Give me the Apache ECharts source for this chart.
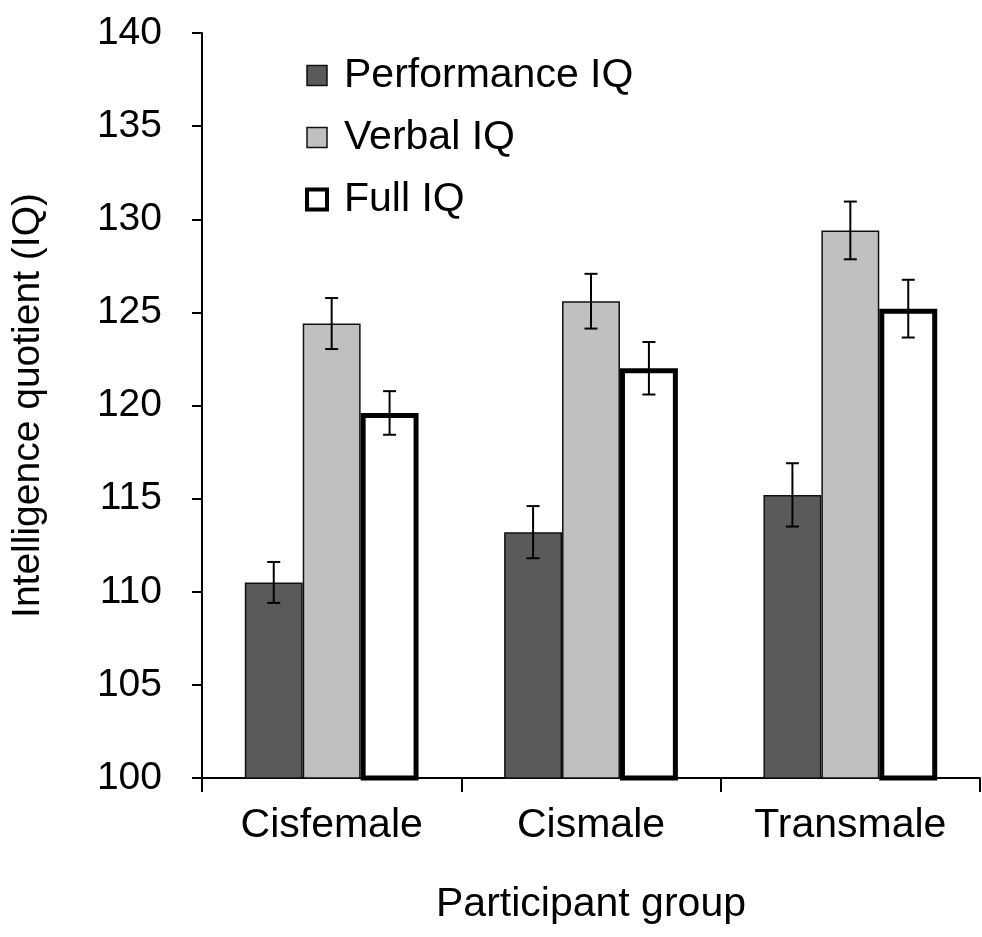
<!DOCTYPE html>
<html>
<head>
<meta charset="utf-8">
<script src="https://cdn.jsdelivr.net/npm/echarts@6/dist/echarts.min.js"></script>
<style>html,body{margin:0;padding:0;background:#fff}#c{width:982px;height:937px}</style>
</head>
<body>
<div id="c"></div>
<script>
const categories = ['Cisfemale', 'Cismale', 'Transmale'];
const seriesNames = ['Performance IQ', 'Verbal IQ', 'Full IQ'];
const performanceIQ = [110.5, 113.2, 115.2];
const verbalIQ = [124.4, 125.6, 129.4];
const fullIQ = [119.6, 122.0, 125.2];
const performanceErr = [1.1, 1.4, 1.7];
const verbalErr = [1.37, 1.47, 1.55];
const fullErr = [1.17, 1.41, 1.55];
const yTicks = [100, 105, 110, 115, 120, 125, 130, 135, 140];

const FONT = '"Liberation Sans", Arial, sans-serif';
const catGap = 0.33;
const values = [performanceIQ, verbalIQ, fullIQ];
const errs = [performanceErr, verbalErr, fullErr];

function errSeries(k) {
  const data = categories.map((c, i) => [i, values[k][i] - errs[k][i], values[k][i] + errs[k][i]]);
  return {
    type: 'custom',
    name: seriesNames[k] + ' err',
    z: 10,
    data: data,
    encode: { x: 0, y: [1, 2] },
    renderItem: function (params, api) {
      const idx = api.value(0);
      const lo = api.coord([idx, api.value(1)]);
      const hi = api.coord([idx, api.value(2)]);
      const catW = api.size([1, 0])[0];
      const barW = catW * (1 - catGap) / 3;
      const x = lo[0] + (k - 1) * barW;
      const cap = 6.5;
      const st = { stroke: '#000', lineWidth: 2 };
      return {
        type: 'group',
        children: [
          { type: 'line', shape: { x1: x, y1: lo[1], x2: x, y2: hi[1] }, style: st },
          { type: 'line', shape: { x1: x - cap, y1: lo[1], x2: x + cap, y2: lo[1] }, style: st },
          { type: 'line', shape: { x1: x - cap, y1: hi[1], x2: x + cap, y2: hi[1] }, style: st }
        ]
      };
    }
  };
}

const styles = [
  { color: '#5a5a5a', borderColor: '#111', borderWidth: 1.5 },
  { color: '#c0c0c0', borderColor: '#111', borderWidth: 1.5 },
  { color: '#ffffff', borderColor: '#000', borderWidth: 5 }
];

const chart = echarts.init(document.getElementById('c'), null, { renderer: 'canvas' });
chart.setOption({
  animation: false,
  backgroundColor: '#fff',
  textStyle: { fontFamily: FONT },
  grid: { left: 202, right: 2, top: 33, bottom: 159, containLabel: false },
  legend: {
    orient: 'vertical',
    left: 305,
    top: 55,
    padding: 0,
    itemWidth: 20,
    itemHeight: 20,
    itemGap: 21,
    icon: 'rect',
    textStyle: { fontSize: 41, color: '#000', fontFamily: FONT, padding: [0, 0, 0, 12] },
    data: [
      { name: seriesNames[0], itemStyle: { color: '#5a5a5a', borderColor: '#111', borderWidth: 1.5 } },
      { name: seriesNames[1], itemStyle: { color: '#c0c0c0', borderColor: '#111', borderWidth: 1.5 } },
      { name: seriesNames[2], itemStyle: { color: '#fff', borderColor: '#000', borderWidth: 4 } }
    ]
  },
  xAxis: {
    type: 'category',
    data: categories,
    name: 'Participant group',
    nameLocation: 'middle',
    nameGap: 106,
    nameTextStyle: { fontSize: 41, color: '#000', fontFamily: FONT },
    axisLine: { lineStyle: { color: '#000', width: 2 } },
    axisTick: { show: true, alignWithLabel: false, length: 14, lineStyle: { color: '#000', width: 2 } },
    axisLabel: { fontSize: 41, color: '#000', margin: 27, fontFamily: FONT }
  },
  yAxis: {
    type: 'value',
    min: yTicks[0],
    max: yTicks[yTicks.length - 1],
    interval: 5,
    name: 'Intelligence quotient (IQ)',
    nameLocation: 'middle',
    nameGap: 154,
    nameRotate: 90,
    nameTextStyle: { fontSize: 39, color: '#000', fontFamily: FONT },
    axisLine: { show: true, lineStyle: { color: '#000', width: 2 } },
    axisTick: { show: true, length: 10, lineStyle: { color: '#000', width: 2 } },
    axisLabel: { fontSize: 39, color: '#000', margin: 40, fontFamily: FONT },
    splitLine: { show: false }
  },
  series: [
    { type: 'bar', name: seriesNames[0], data: performanceIQ, barGap: '0%', barCategoryGap: (catGap * 100) + '%', itemStyle: styles[0] },
    { type: 'bar', name: seriesNames[1], data: verbalIQ, barGap: '0%', barCategoryGap: (catGap * 100) + '%', itemStyle: styles[1] },
    { type: 'bar', name: seriesNames[2], data: fullIQ, barGap: '0%', barCategoryGap: (catGap * 100) + '%', itemStyle: styles[2] },
    errSeries(0), errSeries(1), errSeries(2)
  ]
});
</script>
</body>
</html>
